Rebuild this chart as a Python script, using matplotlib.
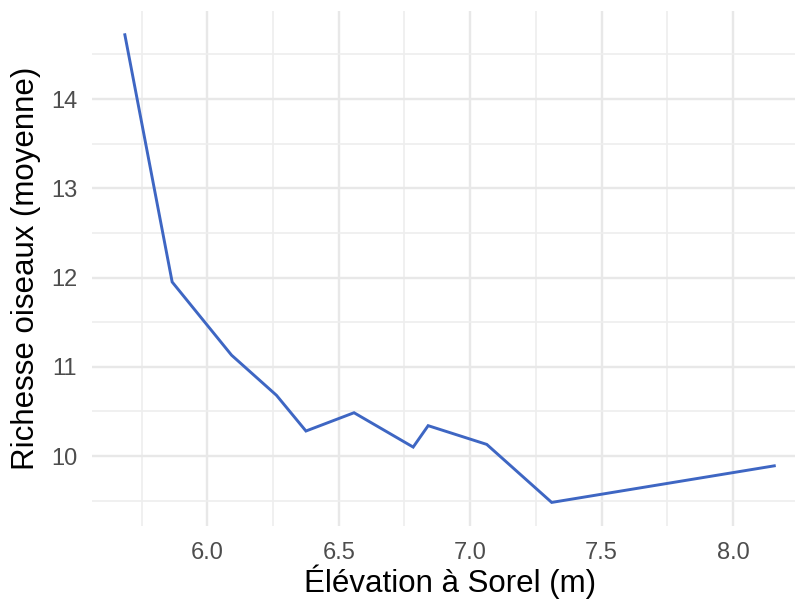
import numpy as np
import matplotlib
matplotlib.use('Agg')
import matplotlib.pyplot as plt
from matplotlib.ticker import MultipleLocator

# mean bird richness against elevation at Sorel
elevation = [5.686, 5.866, 6.092, 6.263, 6.375, 6.558, 6.783, 6.840, 7.063, 7.310, 8.157]
richness = [14.72, 11.95, 11.13, 10.68, 10.28, 10.485, 10.10, 10.34, 10.13, 9.48, 9.89]

x_ticks = [6.0, 6.5, 7.0, 7.5, 8.0]
y_ticks = [10, 11, 12, 13, 14]

plt.rcParams['font.family'] = ['Liberation Sans', 'DejaVu Sans']

fig = plt.figure(figsize=(7.95, 5.99), dpi=100)
ax = fig.add_axes([0.1162, 0.1222, 0.8986, 0.8588])

ax.plot(elevation, richness, color='#3e66c3', lw=2.1, solid_joinstyle='miter', zorder=3)

# ggplot-like expanded limits
xr = max(elevation) - min(elevation)
yr = max(richness) - min(richness)
ax.set_xlim(min(elevation) - 0.05 * xr, max(elevation) + 0.05 * xr)
ax.set_ylim(min(richness) - 0.05 * yr, max(richness) + 0.05 * yr)

ax.set_xticks(x_ticks)
ax.set_xticklabels(['%.1f' % v for v in x_ticks])
ax.set_yticks(y_ticks)
ax.set_yticklabels([str(v) for v in y_ticks])
ax.xaxis.set_minor_locator(MultipleLocator(0.25))
ax.yaxis.set_minor_locator(MultipleLocator(0.5))

ax.grid(which='major', color='#e8e8e8', lw=1.7)
ax.grid(which='minor', color='#eeeeee', lw=1.2)
ax.set_axisbelow(True)
for s in ax.spines.values():
    s.set_visible(False)
ax.tick_params(which='both', length=0)
ax.tick_params(axis='x', labelsize=17, labelcolor='#4d4d4d', pad=12)
ax.tick_params(axis='y', labelsize=17, labelcolor='#4d4d4d', pad=11)

ax.set_xlabel('Élévation à Sorel (m)', fontsize=22.5, color='black', labelpad=0)
ax.set_ylabel('Richesse oiseaux (moyenne)', fontsize=22.5, color='black', labelpad=7)

fig.savefig('out.png', dpi=100)
plt.close()
